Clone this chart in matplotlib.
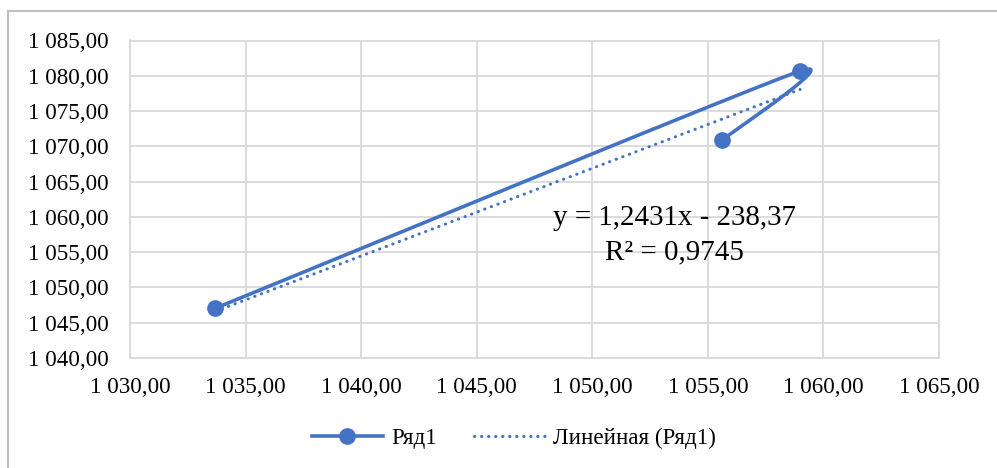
import numpy as np
import matplotlib

matplotlib.use("Agg")
import matplotlib.pyplot as plt
from matplotlib.lines import Line2D
from matplotlib.patches import Rectangle

plt.rcParams.update({
    "font.family": ["Liberation Serif", "DejaVu Serif"],
})

# data
x_vals = [1033.69, 1058.99, 1055.62]
y_vals = [1047.05, 1080.67, 1070.90]
trend_slope = 1.2431
trend_icept = -238.37
trend_r2 = 0.9745
series_name = "Ряд1"
trend_name = "Линейная (Ряд1)"
x_ticks = [1030, 1035, 1040, 1045, 1050, 1055, 1060, 1065]
y_ticks = [1040, 1045, 1050, 1055, 1060, 1065, 1070, 1075, 1080, 1085]

BLUE = "#4472C4"
GRID = "#D9D9D9"


def fmt(v):
    s = f"{v:,.2f}"
    return s.replace(",", " ").replace(".", ",")


def smooth(xs, ys, f=0.55, n=80):
    # Excel-like smoothed line: cubic Bezier through points (Catmull-Rom style)
    p = np.column_stack([xs, ys]).astype(float)
    ext = np.vstack([p[0], p, p[-1]])
    out = []
    for i in range(len(p) - 1):
        p0, p1 = p[i], p[i + 1]
        c1 = p0 + f * (ext[i + 2] - ext[i]) / 6.0
        c2 = p1 - f * (ext[i + 3] - ext[i + 1]) / 6.0
        t = np.linspace(0, 1, n)[:, None]
        seg = ((1 - t) ** 3) * p0 + 3 * ((1 - t) ** 2) * t * c1 \
            + 3 * (1 - t) * t ** 2 * c2 + t ** 3 * p1
        out.append(seg)
    pts = np.vstack(out)
    return pts[:, 0], pts[:, 1]


fig = plt.figure(figsize=(9.97, 4.68), dpi=100)
ax = fig.add_axes([130 / 997, 1 - 358 / 468, (939 - 130) / 997, (358 - 40.5) / 468])

# chart-area frame
fig.patches.append(Rectangle((8 / 997, -0.05), 1.2, 1 - 11 / 468 + 0.05,
                             transform=fig.transFigure, fill=False,
                             edgecolor="#BFBFBF", lw=1.5))

sx, sy = smooth(x_vals, y_vals)
ax.plot(sx, sy, color=BLUE, lw=2.6, solid_capstyle="round",
        solid_joinstyle="round", zorder=3)
ax.plot(x_vals, y_vals, "o", color=BLUE, ms=11, zorder=4)

tx = np.array([min(x_vals), max(x_vals)])
ax.plot(tx, trend_slope * tx + trend_icept, color=BLUE, lw=2.2,
        ls=(0, (0.1, 2.2)), dash_capstyle="round", zorder=2)

ax.set_xlim(x_ticks[0], x_ticks[-1])
ax.set_ylim(y_ticks[0], y_ticks[-1])
ax.set_xticks(x_ticks)
ax.set_yticks(y_ticks)
ax.set_xticklabels([fmt(v) for v in x_ticks], fontsize=16.6)
ax.set_yticklabels([fmt(v) for v in y_ticks], fontsize=16.6)
ax.tick_params(length=0, pad=14)
ax.tick_params(axis="y", pad=15.5)
ax.grid(True, color=GRID, lw=1.3)
ax.set_axisbelow(True)
for s in ax.spines.values():
    s.set_color(GRID)
    s.set_linewidth(1.3)

eq_x = 1053.55
ax.text(eq_x, 1059.8, f"y = {trend_slope:.4f}x - {abs(trend_icept):.2f}".replace(".", ","),
        fontsize=20.9, ha="center", va="center")
ax.text(eq_x, 1054.9, f"R² = {trend_r2:.4f}".replace(".", ","),
        fontsize=20.9, ha="center", va="center")

handles = [
    Line2D([], [], color=BLUE, lw=2.6, marker="o", ms=11),
    Line2D([], [], color=BLUE, lw=2.2, ls=(0, (0.1, 2.2)), dash_capstyle="round"),
]
fig.legend(handles, [series_name, trend_name], loc="center",
           bbox_to_anchor=(514 / 997, 1 - 438 / 468), ncol=2, frameon=False,
           fontsize=16.6, handlelength=3.1, columnspacing=1.6, handletextpad=0.35)

fig.savefig("out.png", dpi=100)
